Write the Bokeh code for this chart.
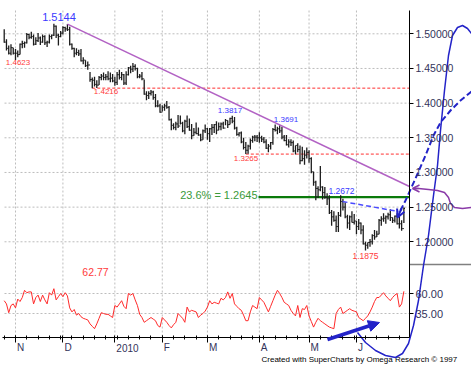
import pandas as pd
from bokeh.plotting import figure
from bokeh.models import (Range1d, LinearAxis, FixedTicker, NumeralTickFormatter,
                          Arrow, NormalHead, OpenHead)
from bokeh.core.properties import value
from bokeh.embed import file_html
from bokeh.resources import INLINE

# ---------------- data (EUR daily bars, Oct 26 2009 - Jun 30 2010) ----------------
dates = pd.bdate_range("2009-10-26", "2010-06-30")

highs = [
    1.5065, 1.4920, 1.4830, 1.4850, 1.4800, 1.4780, 1.4760, 1.4860, 1.4900, 1.4890,
    1.5010, 1.5000, 1.5030, 1.4990, 1.4950, 1.5010, 1.4960, 1.4990, 1.4980, 1.4900,
    1.4990, 1.4990, 1.5144, 1.5120, 1.5000, 1.5040, 1.5110, 1.5100, 1.5140, 1.5100,
    1.4860, 1.4800, 1.4790, 1.4770, 1.4780, 1.4660, 1.4620, 1.4600, 1.4450, 1.4370,
    1.4380, 1.4330, 1.4390, 1.4420, 1.4440, 1.4420, 1.4460, 1.4440, 1.4420, 1.4380,
    1.4450, 1.4480, 1.4450, 1.4420, 1.4460, 1.4520, 1.4540, 1.4579, 1.4560, 1.4510,
    1.4420, 1.4450, 1.4340, 1.4170, 1.4170, 1.4190, 1.4180, 1.4130, 1.4040, 1.3990,
    1.3970, 1.3990, 1.4030, 1.3960, 1.3780, 1.3710, 1.3730, 1.3830, 1.3820, 1.3730,
    1.3760, 1.3820, 1.3780, 1.3700, 1.3640, 1.3720, 1.3650, 1.3560, 1.3620, 1.3690,
    1.3640, 1.3640, 1.3700, 1.3700, 1.3740, 1.3720, 1.3720, 1.3730, 1.3770, 1.3750,
    1.3790, 1.3817, 1.3800, 1.3660, 1.3580, 1.3590, 1.3500, 1.3440, 1.3400, 1.3490,
    1.3530, 1.3540, 1.3540, 1.3580, 1.3530, 1.3510, 1.3480, 1.3410, 1.3440, 1.3640,
    1.3691, 1.3660, 1.3680, 1.3660, 1.3540, 1.3540, 1.3480, 1.3480, 1.3460, 1.3390,
    1.3420, 1.3390, 1.3370, 1.3320, 1.3360, 1.3320, 1.3220, 1.3010, 1.2880, 1.2800,
    1.3094, 1.2800, 1.2790, 1.2700, 1.2670, 1.2460, 1.2440, 1.2380, 1.2430, 1.2672,
    1.2620, 1.2570, 1.2390, 1.2380, 1.2440, 1.2400, 1.2300, 1.2330, 1.2280, 1.2240,
    1.2000, 1.1990, 1.2040, 1.2110, 1.2170, 1.2160, 1.2330, 1.2370, 1.2410, 1.2380,
    1.2420, 1.2470, 1.2350, 1.2380, 1.2410, 1.2400, 1.2310, 1.2500,
]
lows = [
    1.4870, 1.4760, 1.4700, 1.4690, 1.4700, 1.4623, 1.4660, 1.4700, 1.4790, 1.4800,
    1.4860, 1.4920, 1.4930, 1.4830, 1.4840, 1.4880, 1.4840, 1.4870, 1.4840, 1.4810,
    1.4860, 1.4920, 1.4970, 1.4940, 1.4830, 1.4950, 1.4990, 1.5030, 1.5040, 1.4830,
    1.4770, 1.4660, 1.4690, 1.4680, 1.4600, 1.4560, 1.4520, 1.4480, 1.4310, 1.4216,
    1.4240, 1.4220, 1.4260, 1.4330, 1.4330, 1.4330, 1.4330, 1.4300, 1.4300, 1.4250,
    1.4260, 1.4340, 1.4330, 1.4260, 1.4260, 1.4400, 1.4430, 1.4450, 1.4470, 1.4360,
    1.4360, 1.4330, 1.4120, 1.4040, 1.4060, 1.4110, 1.4050, 1.3940, 1.3940, 1.3860,
    1.3880, 1.3890, 1.3920, 1.3750, 1.3610, 1.3620, 1.3610, 1.3640, 1.3690, 1.3580,
    1.3550, 1.3640, 1.3600, 1.3480, 1.3530, 1.3550, 1.3530, 1.3450, 1.3470, 1.3570,
    1.3470, 1.3440, 1.3540, 1.3570, 1.3550, 1.3610, 1.3610, 1.3630, 1.3680, 1.3640,
    1.3690, 1.3710, 1.3620, 1.3530, 1.3520, 1.3420, 1.3330, 1.3265, 1.3270, 1.3330,
    1.3430, 1.3450, 1.3440, 1.3430, 1.3440, 1.3420, 1.3340, 1.3290, 1.3330, 1.3400,
    1.3590, 1.3550, 1.3570, 1.3480, 1.3450, 1.3390, 1.3360, 1.3380, 1.3290, 1.3260,
    1.3290, 1.3120, 1.3160, 1.3110, 1.3200, 1.3140, 1.2990, 1.2810, 1.2600, 1.2630,
    1.2730, 1.2610, 1.2620, 1.2530, 1.2400, 1.2230, 1.2290, 1.2140, 1.2143, 1.2360,
    1.2450, 1.2340, 1.2190, 1.2170, 1.2280, 1.2250, 1.2110, 1.2170, 1.2110, 1.1960,
    1.1875, 1.1900, 1.1930, 1.1960, 1.2030, 1.2070, 1.2110, 1.2230, 1.2290, 1.2260,
    1.2320, 1.2300, 1.2270, 1.2280, 1.2250, 1.2190, 1.2160, 1.2270,
]
closes = [
    1.4880, 1.4790, 1.4720, 1.4800, 1.4720, 1.4720, 1.4700, 1.4850, 1.4860, 1.4870,
    1.4990, 1.4950, 1.4960, 1.4850, 1.4900, 1.4940, 1.4880, 1.4960, 1.4870, 1.4880,
    1.4960, 1.4980, 1.5110, 1.4980, 1.4960, 1.5010, 1.5090, 1.5070, 1.5060, 1.4850,
    1.4790, 1.4720, 1.4730, 1.4710, 1.4610, 1.4620, 1.4540, 1.4550, 1.4340, 1.4330,
    1.4270, 1.4260, 1.4370, 1.4390, 1.4370, 1.4380, 1.4350, 1.4360, 1.4320, 1.4300,
    1.4410, 1.4370, 1.4410, 1.4290, 1.4410, 1.4510, 1.4490, 1.4530, 1.4500, 1.4380,
    1.4390, 1.4350, 1.4130, 1.4110, 1.4140, 1.4160, 1.4080, 1.3960, 1.3960, 1.3870,
    1.3940, 1.3960, 1.3940, 1.3760, 1.3680, 1.3650, 1.3700, 1.3670, 1.3710, 1.3600,
    1.3740, 1.3660, 1.3610, 1.3530, 1.3580, 1.3560, 1.3540, 1.3470, 1.3600, 1.3630,
    1.3560, 1.3630, 1.3650, 1.3690, 1.3610, 1.3660, 1.3700, 1.3640, 1.3750, 1.3690,
    1.3780, 1.3740, 1.3640, 1.3550, 1.3570, 1.3440, 1.3360, 1.3320, 1.3380, 1.3460,
    1.3510, 1.3510, 1.3500, 1.3500, 1.3480, 1.3440, 1.3350, 1.3380, 1.3430, 1.3620,
    1.3610, 1.3630, 1.3600, 1.3510, 1.3460, 1.3400, 1.3440, 1.3430, 1.3310, 1.3390,
    1.3330, 1.3170, 1.3200, 1.3250, 1.3290, 1.3200, 1.3010, 1.2860, 1.2770, 1.2750,
    1.2790, 1.2710, 1.2640, 1.2620, 1.2420, 1.2360, 1.2310, 1.2220, 1.2380, 1.2580,
    1.2500, 1.2360, 1.2270, 1.2360, 1.2280, 1.2300, 1.2220, 1.2270, 1.2170, 1.1970,
    1.1950, 1.1990, 1.2000, 1.2090, 1.2070, 1.2110, 1.2310, 1.2330, 1.2340, 1.2360,
    1.2390, 1.2350, 1.2310, 1.2370, 1.2260, 1.2260, 1.2190, 1.2480,
]
rsi = [
    51, 47, 36, 45, 47, 42, 53, 50, 55, 64,
    61, 62, 62, 47, 55, 58, 50, 58, 52, 47,
    61, 58, 66, 52, 56, 60, 56, 61, 57, 42,
    37, 40, 33, 35, 31, 29, 28, 27, 22, 19,
    16, 22, 29, 36, 35, 34, 34, 32, 30, 45,
    43, 47, 51, 44, 41, 60, 58, 60, 52, 45,
    34, 30, 24, 26, 28, 30, 28, 26, 20, 18,
    30, 27, 24, 20, 17, 21, 24, 35, 32, 29,
    24, 43, 37, 39, 38, 37, 30, 33, 35, 38,
    43, 51, 47, 49, 48, 47, 54, 52, 55, 62,
    54, 60, 47, 44, 41, 39, 33, 26, 26, 37,
    45, 43, 41, 55, 52, 49, 43, 37, 44, 51,
    58, 64, 60, 55, 49, 47, 45, 39, 35, 32,
    45, 30, 41, 40, 45, 32, 25, 18, 24, 29,
    26, 24, 22, 20, 18, 17, 16, 35, 40, 43,
    35, 37, 39, 41, 39, 38, 37, 30, 28, 26,
    29, 32, 37, 43, 50, 55, 55, 58, 61, 57,
    54, 51, 55, 58, 60, 43, 47, 62.77,
]

month_labels = ["N", "D", "2010", "F", "M", "A", "M", "J"]
price_ticks = [1.20, 1.25, 1.30, 1.35, 1.40, 1.45, 1.50]
rsi_ticks = [35, 60]

swing_high_text = ["1.5144", "1.3817", "1.3691", "1.2672"]
swing_low_text = ["1.4623", "1.4216", "1.3265", "1.1875"]
support_levels = [1.4216, 1.3265]
support_start = [39, 107]
fib_level = 1.2645
fib_text = "23.6% = 1.2645"
trend_start_bar = 28
rsi_last_text = "62.77"
credit_text = "Created with SuperCharts by Omega Research \u00a9 1997"

# ---------------- layout helpers (reference pixel -> data) ----------------
X0, PXB = 3.71, 2.258
def ix(px):
    return (px - X0) / PXB
def py(px):
    return 1.5 - (px - 33.3) / 693.3
def ry(px):
    return 60 - (px - 293.0) / 0.8

FONT = value("Liberation Sans")
BLUE_TXT = "#3a3aff"
RED_TXT = "#ff3b3b"
AX_TXT = "#33335a"

n = len(dates)
idx = list(range(n))
month_first = [i for i in range(1, n) if dates[i].month != dates[i - 1].month]
mondays = [i for i, d in enumerate(dates) if d.weekday() == 0]

p = figure(width=471, height=372, x_range=Range1d(ix(0), ix(471)),
           y_range=Range1d(py(372), py(0)), output_backend="svg",
           toolbar_location=None, x_axis_location=None, y_axis_location=None,
           min_border=0, outline_line_color=None,
           background_fill_color="white", border_fill_color="white")
p.extra_y_ranges = {"rsi": Range1d(ry(372), ry(0))}
p.xgrid.visible = False
p.ygrid.visible = False

AX_X = ix(409)
GRID = dict(line_color="#bdbdbd", line_width=1, line_dash="2 2")
p.segment(x0=month_first, x1=month_first, y0=[py(10)] * len(month_first),
          y1=[py(337)] * len(month_first), **GRID)
p.segment(x0=[ix(4)] * len(price_ticks), x1=[AX_X] * len(price_ticks),
          y0=price_ticks, y1=price_ticks, **GRID)
p.segment(x0=[ix(4)] * 2, x1=[AX_X] * 2, y0=rsi_ticks, y1=rsi_ticks,
          y_range_name="rsi", **GRID)

p.segment(x0=support_start, x1=[AX_X] * 2, y0=support_levels, y1=support_levels,
          line_color="#ff3030", line_width=1, line_dash="3 2")
p.segment(x0=[ix(258)], x1=[AX_X], y0=[fib_level], y1=[fib_level],
          line_color="#0b7a0b", line_width=2.2)

bar_color = "#1c1c1c"
p.segment(x0=idx, x1=idx, y0=lows, y1=highs, line_color=bar_color, line_width=1.3)
p.segment(x0=idx, x1=[i + 0.5 for i in idx], y0=closes, y1=closes,
          line_color=bar_color, line_width=1)
p.segment(x0=[i - 0.5 for i in idx[1:]], x1=idx[1:], y0=closes[:-1], y1=closes[:-1],
          line_color=bar_color, line_width=1)

p.line([trend_start_bar, AX_X], [highs[trend_start_bar], py(186)],
       line_color="#b262c4", line_width=1.5)

p.line(idx, rsi, y_range_name="rsi", line_color="#ff2a2a", line_width=1)

p.segment(x0=[AX_X], x1=[ix(471)], y0=[py(264)], y1=[py(264)],
          line_color="#808080", line_width=1.5)

hi_pos = [(ix(58.5), py(16), 11), (ix(229.5), py(110), 8), (ix(285.5), py(118.5), 8),
          (ix(341), py(190), 8.5)]
lo_pos = [(ix(17.5), py(62), 8), (ix(105.5), py(91), 8), (ix(245.5), py(157.5), 8),
          (ix(365), py(255), 8.5)]
for txt, (x, y, fs) in zip(swing_high_text, hi_pos):
    p.text(x=[x], y=[y], text=[txt], text_font=FONT, text_font_size=value(f"{fs}px"),
           text_color=BLUE_TXT, text_align="center", text_baseline="middle")
for txt, (x, y, fs) in zip(swing_low_text, lo_pos):
    p.text(x=[x], y=[y], text=[txt], text_font=FONT, text_font_size=value(f"{fs}px"),
           text_color=RED_TXT, text_align="center", text_baseline="middle")
p.text(x=[ix(257)], y=[py(194)], text=[fib_text], text_font=FONT,
       text_font_size=value("11px"), text_color="#3a9a3a", text_align="right",
       text_baseline="middle")
p.text(x=[ix(95)], y=[ry(271)], y_range_name="rsi", text=[rsi_last_text], text_font=FONT,
       text_font_size=value("10.5px"), text_color=RED_TXT, text_align="center",
       text_baseline="middle")
p.text(x=[ix(261)], y=[py(358.5)], text=[credit_text], text_font=FONT,
       text_font_size=value("8px"), text_color="#000000", text_align="left",
       text_baseline="middle")

# month labels, left-aligned just right of each month's tick
p.text(x=month_first, y=[py(347)] * len(month_first), text=month_labels, x_offset=1.5,
       text_font=FONT, text_font_size=value("10px"), text_color=AX_TXT,
       text_align="left", text_baseline="middle")

# ---------------- hand-drawn annotations ----------------
ANN_BLUE = "#2323c8"
p.line([ix(342), ix(398)], [py(201), py(211)], line_color="#4a4aff", line_width=1.5,
       line_dash="5 3")
dash_pts = [(471, 91), (460, 100), (450, 110), (440, 122), (433, 135), (425, 155),
            (415, 178), (405, 200), (400, 210)]
p.line([ix(a) for a, b in dash_pts], [py(b) for a, b in dash_pts], line_color=ANN_BLUE,
       line_width=2, line_dash="6 3")
p.add_layout(Arrow(end=OpenHead(size=8, line_color=ANN_BLUE, line_width=2),
                   x_start=ix(401), y_start=py(208), x_end=ix(397), y_end=py(217),
                   line_color=ANN_BLUE, line_width=2))
curve_pts = [(357, 332), (365, 342), (375, 350), (385, 355), (395, 357), (402, 353),
             (408, 343), (413, 325), (418, 300), (423, 265), (428, 235), (433, 195),
             (437, 165), (440, 130), (444, 90), (448, 55), (452, 35), (457, 27),
             (462, 25), (467, 28), (471, 33)]
p.line([ix(a) for a, b in curve_pts], [py(b) for a, b in curve_pts], line_color=ANN_BLUE,
       line_width=1.5)
hook_pts = [(471, 207), (462, 208), (454, 207), (450, 203), (448, 197), (444, 192),
            (437, 190), (428, 189), (418, 188), (415, 188)]
p.line([ix(a) for a, b in hook_pts], [py(b) for a, b in hook_pts], line_color="#8a3aa8",
       line_width=1.5)
p.add_layout(Arrow(end=OpenHead(size=7, line_color="#8a3aa8", line_width=1.5),
                   x_start=ix(418), y_start=py(188), x_end=ix(412), y_end=py(188),
                   line_color="#8a3aa8", line_width=1.5))
p.add_layout(Arrow(end=NormalHead(size=11, fill_color=ANN_BLUE, line_color=ANN_BLUE),
                   x_start=ix(327), y_start=py(339), x_end=ix(379), y_end=py(322),
                   line_color=ANN_BLUE, line_width=3.5))

# ---------------- axes ----------------
yax = LinearAxis(ticker=FixedTicker(ticks=price_ticks),
                 formatter=NumeralTickFormatter(format="0.00000"),
                 fixed_location=AX_X, bounds=(py(337), py(10)))
yax.major_tick_in = 0
yax.major_tick_out = 4
yax.minor_tick_line_color = None
yax.major_label_standoff = 2
yax.axis_line_color = "#000000"
yax.major_tick_line_color = "#000000"
yax.major_label_text_font = "Liberation Sans"
yax.major_label_text_font_size = "10.5px"
yax.major_label_text_color = AX_TXT
p.add_layout(yax, "right")

rax = LinearAxis(y_range_name="rsi", ticker=FixedTicker(ticks=rsi_ticks),
                 formatter=NumeralTickFormatter(format="0.00"), fixed_location=AX_X)
rax.axis_line_color = None
rax.major_tick_in = 0
rax.major_tick_out = 4
rax.minor_tick_line_color = None
rax.major_label_standoff = 2
rax.major_tick_line_color = "#000000"
rax.major_label_text_font = "Liberation Sans"
rax.major_label_text_font_size = "11px"
rax.major_label_text_color = AX_TXT
p.add_layout(rax, "right")

xax = LinearAxis(ticker=FixedTicker(ticks=month_first, minor_ticks=mondays),
                 fixed_location=py(337), bounds=(ix(2), AX_X))
xax.major_label_text_font_size = "0px"
xax.major_label_text_color = None
xax.major_tick_in = 2
xax.major_tick_out = 5
xax.minor_tick_in = 2
xax.minor_tick_out = 2
xax.axis_line_color = "#000000"
xax.major_tick_line_color = "#000000"
xax.minor_tick_line_color = "#000000"
p.add_layout(xax, "below")

open("out.html", "w").write(file_html(p, INLINE))
